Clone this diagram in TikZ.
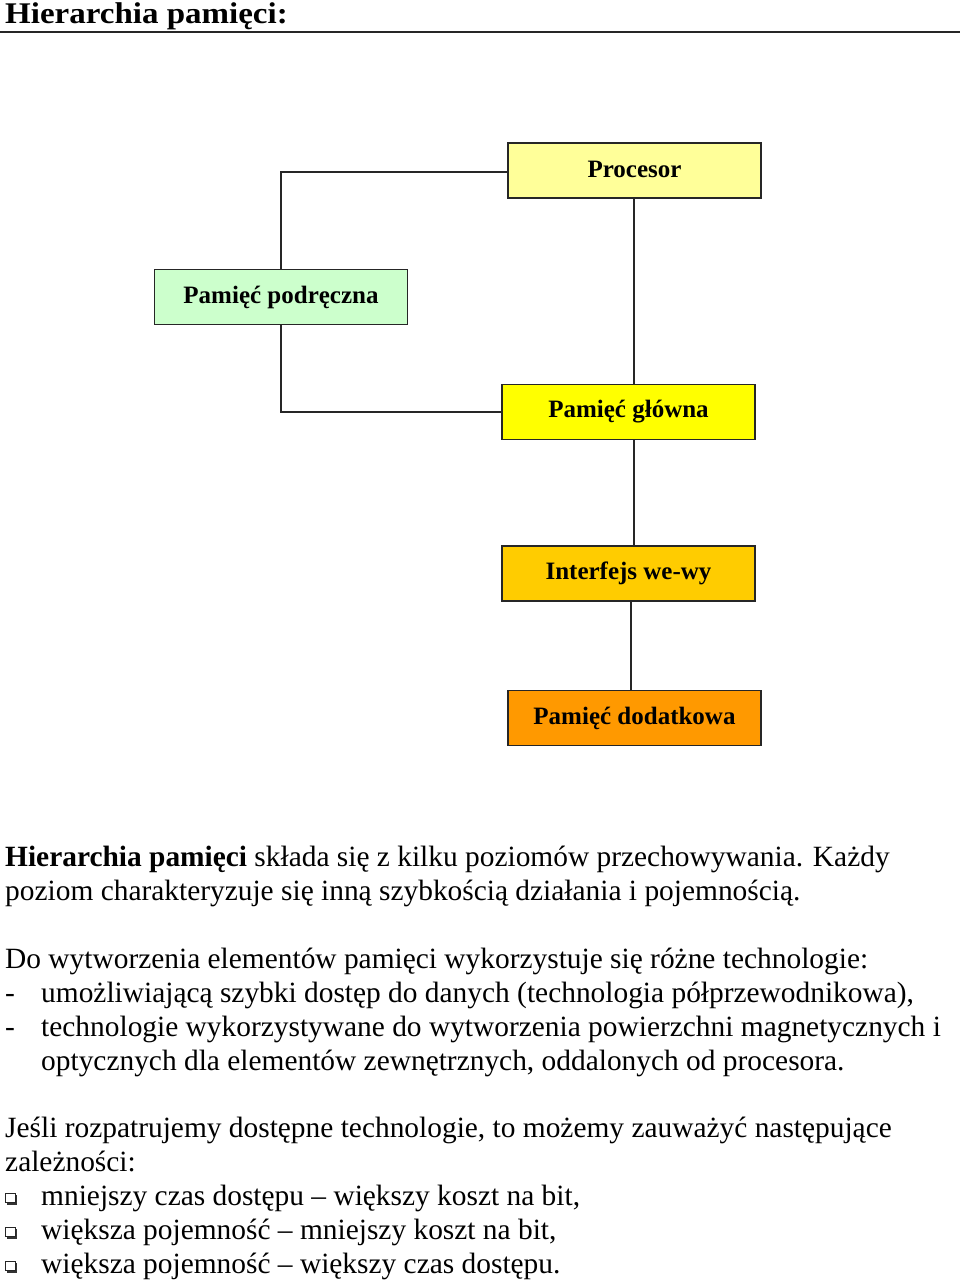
\documentclass[tikz,border=0pt]{standalone}
\usepackage{fontspec}
\setmainfont{Liberation Serif}
\begin{document}
\begin{tikzpicture}[x=1pt,y=-1pt,
  box/.style={draw=black!85, line width=1.8pt, minimum width=253pt, minimum height=55pt, inner sep=0pt, font=\fontsize{25}{28}\selectfont\bfseries},
  conn/.style={draw=black!85, line width=1.8pt},
  txt/.style={anchor=base west, inner sep=0pt, font=\fontsize{29.4}{34}\selectfont},
]
\useasboundingbox (0,0) rectangle (960,1283);
\newcommand{\bxlab}[1]{\raisebox{2.5pt}{#1}}
% title
\node[anchor=base west, inner sep=0pt] (title) at (5,23) {\scalebox{1.1}[1]{\fontsize{30}{32}\selectfont\bfseries Hierarchia pamięci:}};
\coordinate (ulA) at (0,32);
\coordinate (ulB) at (960,32);
\draw[line width=2pt, black!85] (ulA) -- (ulB);
% boxes
\node[box, fill={rgb,255:red,255;green,255;blue,153}] (proc) at (634.5,170.5) {\bxlab{Procesor}};
\node[box, fill={rgb,255:red,204;green,255;blue,204}] (cache) at (281,297) {\bxlab{Pamięć podręczna}};
\node[box, fill={rgb,255:red,255;green,255;blue,0}] (main) at (628.5,412) {\bxlab{Pamięć główna}};
\node[box, fill={rgb,255:red,255;green,204;blue,0}] (io) at (628.5,573.5) {\bxlab{Interfejs we-wy}};
\node[box, fill={rgb,255:red,255;green,153;blue,0}] (ext) at (634.5,718) {\bxlab{Pamięć dodatkowa}};
% connectors
\draw[conn] (proc.west |- 0,172) -| (cache.north);
\draw[conn] (cache.south) |- (main.west);
\draw[conn] (proc.south -| 634,0) -- (main.north -| 634,0);
\draw[conn] (main.south -| 634,0) -- (io.north -| 634,0);
\draw[conn] (io.south -| 631,0) -- (ext.north -| 631,0);
% text
\node[txt] (l1) at (5,866) {\textbf{Hierarchia pamięci} składa się z kilku poziomów przechowywania. Każdy};
\node[txt] (l2) at (5,900) {poziom charakteryzuje się inną szybkością działania i pojemnością.};
\node[txt] (l3) at (5,968) {Do wytworzenia elementów pamięci wykorzystuje się różne technologie:};
\node[txt] (d1) at (5,1002) {-};
\node[txt] (l4) at (41,1002) {umożliwiającą szybki dostęp do danych (technologia półprzewodnikowa),};
\node[txt] (d2) at (5,1036) {-};
\node[txt] (l5) at (41,1036) {technologie wykorzystywane do wytworzenia powierzchni magnetycznych i};
\node[txt] (l6) at (41,1070) {optycznych dla elementów zewnętrznych, oddalonych od procesora.};
\node[txt] (l7) at (5,1137) {Jeśli rozpatrujemy dostępne technologie, to możemy zauważyć następujące};
\node[txt] (l8) at (5,1171) {zależności:};
\foreach \yy/\t [count=\i] in {1205/{mniejszy czas dostępu – większy koszt na bit,},1239/{większa pojemność – mniejszy koszt na bit,},1273/{większa pojemność – większy czas dostępu.}}{
  \fill[black!80] (7,\yy-10) rectangle (17,\yy);
  \filldraw[fill=white, draw=black!85, line width=1pt] (5.5,\yy-12) rectangle (15,\yy-2.5);
  \node[txt] (b\i) at (41,\yy) {\t};
}
\end{tikzpicture}
\end{document}
